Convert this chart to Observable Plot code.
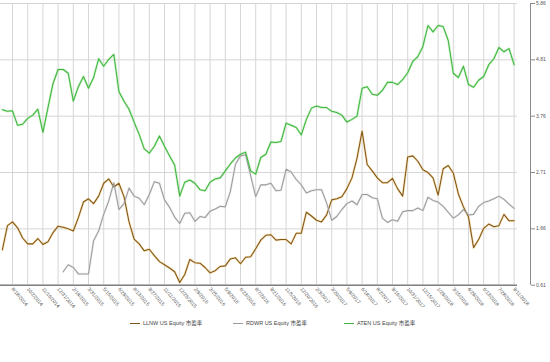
<!DOCTYPE html>
<html><head><meta charset="utf-8">
<script src="https://cdn.jsdelivr.net/npm/d3@7"></script>
<script src="https://cdn.jsdelivr.net/npm/@observablehq/plot@0.6"></script>
<style>
body{margin:0;background:#fff;font-family:"Liberation Sans",Arial,sans-serif;}
#chart svg{display:block}
#legend{position:relative;width:550px;height:57px;}
.item{position:absolute;top:14px;display:flex;align-items:center;font-size:5.5px;color:#444;font-family:"Liberation Sans","Noto Sans CJK SC",sans-serif;white-space:nowrap}
.sw{display:inline-block;width:10px;height:0;border-top:1.2px solid;margin-right:3px}
</style></head><body><div id="chart"></div><div id="legend"></div>
<script>
const tickLabels = ["8/18/2014","10/2/2014","11/16/2014","12/31/2014","2/14/2015","3/31/2015","5/15/2015","6/29/2015","8/13/2015","9/27/2015","11/11/2015","12/26/2015","2/9/2016","3/25/2016","5/9/2016","6/23/2016","8/7/2016","9/21/2016","11/5/2016","12/20/2016","2/3/2017","3/20/2017","5/4/2017","6/18/2017","8/2/2017","9/16/2017","10/31/2017","12/15/2017","1/29/2018","3/15/2018","4/29/2018","6/13/2018","7/28/2018","9/11/2018"];
const yTicks = [0.61, 1.66, 2.71, 3.76, 4.81, 5.86];
const seriesNames = ["LLNW US Equity 市盈率", "RDWR US Equity 市盈率", "ATEN US Equity 市盈率"];
const seriesColors = ["#80561a", "#9b9b9b", "#3fb63f"];
const haloColors = ["#f2cf88", "#e2e2e2", "#aee6a6"];
const startIndex = -2;

const llnw = [1.27,1.72,1.79,1.68,1.49,1.38,1.38,1.48,1.37,1.42,
1.59,1.71,1.69,1.66,1.62,1.87,2.16,2.22,2.13,2.27,
2.51,2.59,2.44,2.51,2.26,1.79,1.47,1.38,1.25,1.28,
1.16,1.05,0.99,0.93,0.86,0.66,0.81,1.09,1.03,1.02,
0.94,0.84,0.88,0.96,0.97,1.10,1.12,1.01,1.13,1.14,
1.29,1.45,1.54,1.55,1.45,1.46,1.46,1.38,1.58,1.58,
1.97,1.90,1.82,1.79,1.92,2.20,2.22,2.26,2.41,2.61,
2.98,3.48,2.86,2.74,2.61,2.52,2.52,2.60,2.41,2.27,
3.00,3.02,2.92,2.76,2.71,2.61,2.29,2.78,2.84,2.70,
2.31,2.07,1.88,1.31,1.46,1.67,1.75,1.70,1.72,1.93,
1.81,1.81];

const rdwr = [null,null,null,null,null,null,null,null,null,null,null,null,
0.86,0.99,0.94,0.82,0.82,0.82,1.44,1.62,1.93,2.18,
2.52,2.02,2.13,2.42,2.27,2.23,2.11,2.30,2.54,2.51,
2.20,2.06,1.88,1.76,1.95,1.96,1.80,1.89,1.87,1.99,
2.03,2.08,2.07,2.36,2.86,3.02,3.04,2.65,2.26,2.48,
2.48,2.51,2.37,2.38,2.77,2.72,2.58,2.48,2.33,2.37,
2.39,2.39,2.14,1.82,1.89,2.02,2.13,2.18,2.11,2.30,
2.30,2.24,2.22,1.86,1.78,1.83,1.80,1.98,2.00,2.00,
2.05,2.00,2.25,2.19,2.16,2.08,1.97,1.86,1.92,2.02,
1.92,1.93,2.08,2.15,2.18,2.22,2.27,2.21,2.12,2.04];

const aten = [3.88,3.85,3.86,3.59,3.61,3.72,3.78,3.89,3.46,3.92,
4.37,4.63,4.63,4.56,4.04,4.31,4.50,4.28,4.48,4.83,
4.69,4.82,4.91,4.22,4.04,3.89,3.65,3.42,3.15,3.07,
3.20,3.39,3.20,3.02,2.85,2.27,2.53,2.57,2.51,2.39,
2.37,2.53,2.59,2.61,2.74,2.87,2.98,3.05,3.09,2.74,
2.68,2.99,3.05,3.28,3.27,3.29,3.63,3.59,3.55,3.41,
3.70,3.91,3.95,3.92,3.92,3.85,3.83,3.78,3.65,3.70,
3.76,4.28,4.31,4.17,4.15,4.24,4.39,4.39,4.35,4.44,
4.57,4.78,4.87,5.06,5.45,5.33,5.45,5.43,5.17,4.56,
4.48,4.69,4.35,4.30,4.43,4.50,4.72,4.83,5.04,4.96,
5.02,4.72];

const allSeries = [llnw, rdwr, aten];
const toRows = (vals) => vals.map((v, p) => ({i: p + startIndex, v})).filter(d => d.v != null);
const xTicks = tickLabels.map((_, k) => k * 3);
const xMin = -2.37, xMax = 99.67;

const marks = [
  Plot.gridX(xTicks, {stroke: "#d6d6d6", strokeOpacity: 1, strokeWidth: 1}),
  Plot.gridY(yTicks, {stroke: "#d6d6d6", strokeOpacity: 1, strokeWidth: 1}),
  Plot.ruleY([yTicks[0]], {stroke: "#808080", strokeWidth: 1.5}),
  Plot.ruleX([xMax], {dx: 13, stroke: "#8a8a8a", strokeWidth: 1}),
  Plot.axisY(yTicks, {anchor: "right", label: null, dx: 13, tickSize: 4, tickPadding: 1.5, fontSize: 5, stroke: "#8a8a8a", fill: "#555", tickFormat: d => d.toFixed(2)}),
  Plot.axisX(xTicks, {anchor: "bottom", label: null, tickSize: 0, tickPadding: 3, tickRotate: 50, textAnchor: "start", fontSize: 5, fill: "#555", tickFormat: d => tickLabels[Math.round(d / 3)]})
];
allSeries.forEach((s, k) => {
  marks.push(Plot.line(toRows(s), {x: "i", y: "v", stroke: haloColors[k], strokeWidth: 2.4, strokeOpacity: 0.6}));
});
allSeries.forEach((s, k) => {
  marks.push(Plot.line(toRows(s), {x: "i", y: "v", stroke: seriesColors[k], strokeWidth: 1.05}));
});

const chart = Plot.plot({
  width: 550,
  height: 305,
  marginTop: 3,
  marginBottom: 20.3,
  marginLeft: 0,
  marginRight: 33,
  style: {background: "#fff", fontFamily: "'Liberation Sans', Arial, sans-serif", overflow: "visible"},
  x: {type: "linear", domain: [xMin, xMax], axis: null, label: null},
  y: {type: "linear", domain: [yTicks[0], yTicks[yTicks.length - 1]], axis: null, label: null},
  marks
});
document.getElementById("chart").appendChild(chart);

const legend = document.getElementById("legend");
const legendLefts = [130, 233, 344];
seriesNames.forEach((name, k) => {
  const it = document.createElement("div");
  it.className = "item";
  it.style.left = legendLefts[k] + "px";
  const sw = document.createElement("span");
  sw.className = "sw";
  sw.style.borderTopColor = seriesColors[k];
  const tx = document.createElement("span");
  tx.textContent = name;
  it.appendChild(sw); it.appendChild(tx);
  legend.appendChild(it);
});
</script></body></html>
